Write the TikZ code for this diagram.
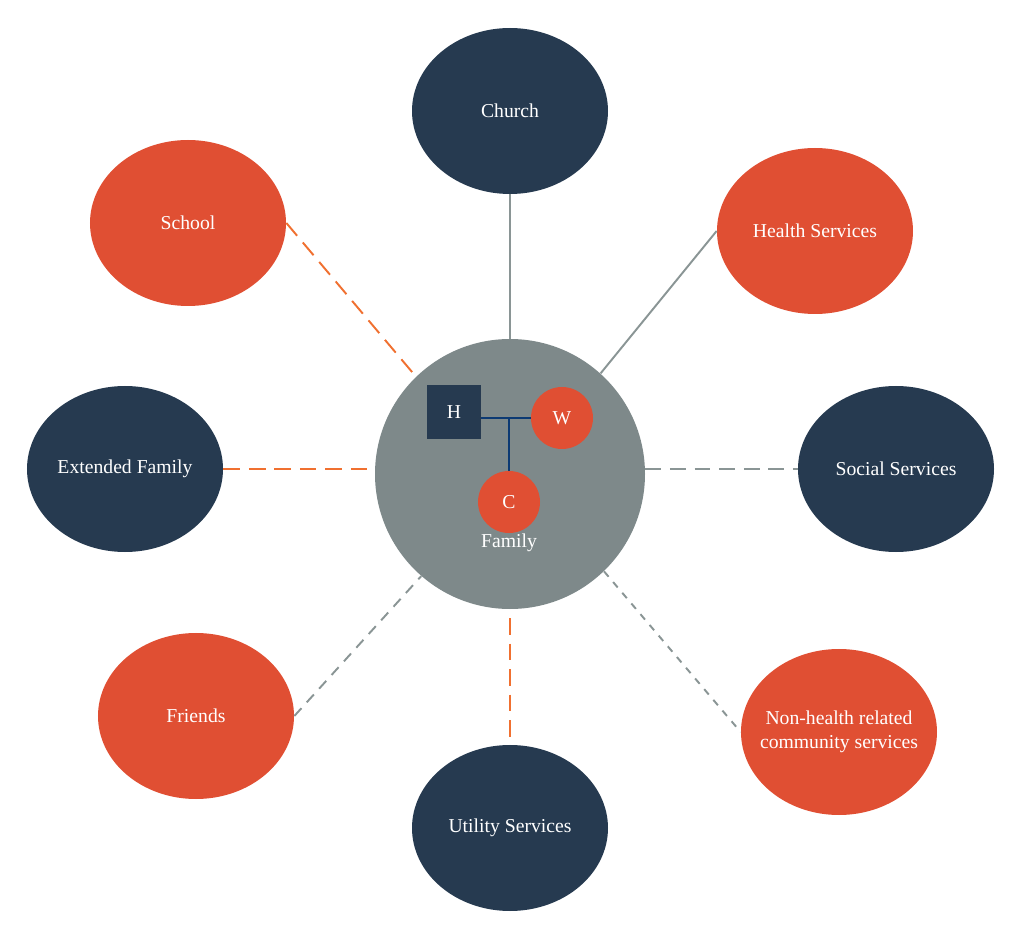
\documentclass[tikz,border=0pt]{standalone}
\usepackage{fontspec}
\setmainfont{Liberation Serif}
\usetikzlibrary{shapes.geometric}
\definecolor{navy}{RGB}{38,58,80}
\definecolor{rust}{RGB}{224,79,51}
\definecolor{famgray}{RGB}{126,137,138}
\definecolor{linkgray}{RGB}{138,149,149}
\definecolor{linkorange}{RGB}{240,112,48}
\definecolor{kinblue}{RGB}{12,58,115}
\begin{document}
\begin{tikzpicture}[x=0.2mm, y=-0.2mm, line join=round, font=\fontsize{11.2}{13.5}\selectfont,
	outer/.style={ellipse, minimum width=3.92cm, minimum height=3.32cm, inner sep=-1cm, text=white, align=center},
	member/.style={circle, fill=rust, minimum size=1.24cm, inner sep=0pt, text=white},
	solidlink/.style={draw=linkgray, line width=1.1pt},
	orangelink/.style={draw=linkorange, line width=1.1pt, dash pattern=on 9.5pt off 5pt},
	graylink/.style={draw=linkgray, line width=1.1pt, dash pattern=on 6pt off 4.5pt},
	kin/.style={draw=kinblue, line width=1pt}]
	\useasboundingbox (0,0) rectangle (1024,941);
	% outer systems
	\foreach \n/\x/\y/\c/\t in {church/510/111/navy/Church, school/188/223/rust/School,
		health/815/231/rust/Health Services, extfam/125/469/navy/Extended Family,
		social/896/469/navy/Social Services, friends/196/716/rust/Friends,
		utility/510/828/navy/Utility Services, nonhealth/839/732/rust/{Non-health related\\community services}}
	\node[outer, fill=\c] (\n) at (\x,\y) {\t};
	% family in the middle
	\node[circle, fill=famgray, minimum size=5.4cm, inner sep=0pt] (fam) at (510,474) {};
	\node[text=white] (famlabel) at (509,543) {Family};
	\node[fill=navy, minimum size=1.08cm, inner sep=0pt, text=white] (H) at (454,412) {H};
	\node[member] (W) at (562,418) {W};
	\node[member] (C) at (509,502) {C};
	\coordinate (J) at (C.north |- W.west);
	\draw[kin] (H.east |- W.west) -- (W.west);
	\draw[kin] (J) -- (C.north);
	% links
	\draw[solidlink] (church.south) -- (fam.north);
	\draw[solidlink] (fam.48) -- (health.west);
	\draw[orangelink] (school.east) -- (fam.134);
	\draw[orangelink] (extfam.east) -- (extfam.east -| fam.west);
	\draw[graylink, dash pattern=on 9pt off 5pt] (fam.east |- social.west) -- (social.west);
	\draw[graylink, dash pattern=on 4pt off 4pt] (fam.-46) -- (nonhealth.west);
	\draw[graylink] (friends.east) -- (fam.-131);
	\draw[orangelink, shorten <=5pt] (fam.south) -- (utility.north);
\end{tikzpicture}
\end{document}
